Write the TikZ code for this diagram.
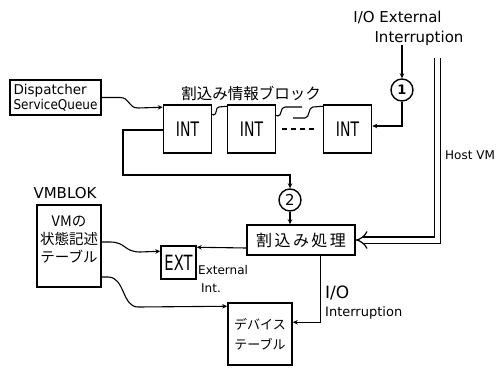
\documentclass[tikz,border=0pt]{standalone}
\usepackage{fontspec}
\usepackage{graphicx}
\setmainfont{DejaVu Sans}
\newfontfamily\jp{Noto Sans CJK JP}
\newfontfamily\jpw[LetterSpace=15]{Noto Sans CJK JP}
\newfontfamily\cond[FakeStretch=0.7]{DejaVu Sans}
\usetikzlibrary{arrows.meta,calc}
\begin{document}
\begin{tikzpicture}[x=1pt,y=-1pt,
  box/.style={draw, line width=1.5pt, inner sep=0pt, anchor=center},
  conn/.style={line width=1.1pt},
  arr/.style={-{Stealth[length=5pt,width=4.5pt]}},
  circ/.style={draw, circle, line width=1.4pt, minimum size=22pt, inner sep=0pt},
  hostvm/.style={double, double distance=5pt, line width=1.2pt, -{Implies[scale=1.7]}},
  txt/.style={inner sep=0pt}
]
\useasboundingbox (0,0) rectangle (503,369);

% boxes
\node[box, minimum width=91pt, minimum height=35pt, align=left, font=\fontsize{13.5}{15.5}\selectfont] (disp) at (55.5,97.5)
  {Dispatcher\\\scalebox{0.89}[1]{ServiceQueue}};
\node[txt, font=\jp\fontsize{15.5}{18}\selectfont] (title) at (251,93) {割込み情報ブロック};
\node[box, minimum width=48pt, minimum height=48pt, font=\cond\fontsize{20}{22}\selectfont] (int1) at (187.5,129) {INT};
\node[box, minimum width=48pt, minimum height=48pt, font=\cond\fontsize{20}{22}\selectfont] (int2) at (251.5,129) {INT};
\node[box, minimum width=48pt, minimum height=48pt, font=\cond\fontsize{20}{22}\selectfont] (int3) at (347.5,129) {INT};

\node[circ, font=\fontsize{13}{13}\selectfont\bfseries] (c1) at (402,90) {1};
\node[txt, font=\fontsize{15}{15}\selectfont] (ioext1) at (397.5,17) {I/O External};
\node[txt, font=\fontsize{15}{15}\selectfont] (ioext2) at (419,38) {Interruption};
\node[txt, anchor=west, font=\fontsize{12}{12}\selectfont] (hostlbl) at (445,155) {Host VM};

\node[circ, font=\fontsize{15}{15}\selectfont] (c2) at (290,200) {2};
\node[box, minimum width=108pt, minimum height=30pt, font=\jpw\fontsize{16}{16}\selectfont] (proc) at (301,240) {割込み処理};

\node[txt, font=\fontsize{15}{15}\selectfont] (vmlbl) at (65,193) {VMBLOK};
\node[box, minimum width=64pt, minimum height=82pt] (vm) at (69,246) {};
\node[txt, align=center, font=\jp\fontsize{14.5}{18}\selectfont] (vmtxt) at (69,240) {VMの\\状態記述\\テーブル};

\node[box, minimum width=35pt, minimum height=33pt, font=\cond\fontsize{21}{21}\selectfont] (ext) at (178.5,262.5) {EXT};
\node[txt, anchor=west, align=left, font=\fontsize{12}{18}\selectfont] (extlbl) at (198,279) {External\\\hspace{3pt}Int.};

\node[box, minimum width=64pt, minimum height=62pt, align=center, font=\jp\fontsize{13}{20}\selectfont] (dev) at (260,334) {デバイス\\テーブル};
\node[txt, anchor=west, font=\fontsize{17}{17}\selectfont] (iolbl1) at (325,293) {I/O};
\node[txt, anchor=west, font=\fontsize{13}{13}\selectfont] (iolbl2) at (325,313) {Interruption};

% free ends
\coordinate (brk1) at (302,107);
\coordinate (brk2) at (293,118);
\coordinate (hvtop) at (437.5,58);

% connectors
\draw[conn, arr] (disp.east) -- (120,97.5) .. controls (130,97.5) and (128,108) .. (138,108) -- ($(int1.north west)+(0,3)$);
\draw[conn] ($(int1.north east)+(0,10)$) -- (213.5,115) .. controls (217.5,115) and (215,107) .. (219,107) -- ($(int2.north west)+(0,2)$);
\draw[conn] ($(int2.north east)+(0,11)$) -- (278,116) .. controls (282,116) and (280,107) .. (285,107) -- (brk1);
\draw[conn] (brk2) -- (305,118) .. controls (310,118) and (308,107) .. (313,107) -- ($(int3.north west)+(0,2)$);
\draw[line width=2pt, dash pattern=on 5pt off 4pt] ($(int2.east)+(6,0)$) -- ($(int3.west)+(-6,0)$);

\draw[conn, arr] (c1 |- ioext2.south) -- (c1.north);
\draw[conn, arr] (c1.south) |- ($(int3.east)+(0,-3)$);

\draw[conn, arr] ($(int1.west)+(0,1)$) -- (123,130) -- (123,175) -| (c2.north);
\draw[conn, arr] (c2.south) -- (c2.south |- proc.north);

\draw[hostvm] (hvtop) |- (proc.east);

\draw[conn, arr] ($(proc.west)+(0,8)$) -- ($(ext.north east)+(0,2)$);
\draw[conn, arr] ($(vm.east)+(0,-4)$) -- (110,242) .. controls (126,242) and (124,252) .. (140,252) -- ($(ext.north west)+(0,6)$);
\draw[conn, arr] ($(vm.east)+(0,31)$) -- (108,277) .. controls (125,277) and (122,307) .. (138,307) -- ($(dev.north west)+(0,4)$);
\draw[conn, arr] ($(proc.south east)+(-35,0)$) |- ($(dev.north east)+(0,20)$);
\end{tikzpicture}
\end{document}
